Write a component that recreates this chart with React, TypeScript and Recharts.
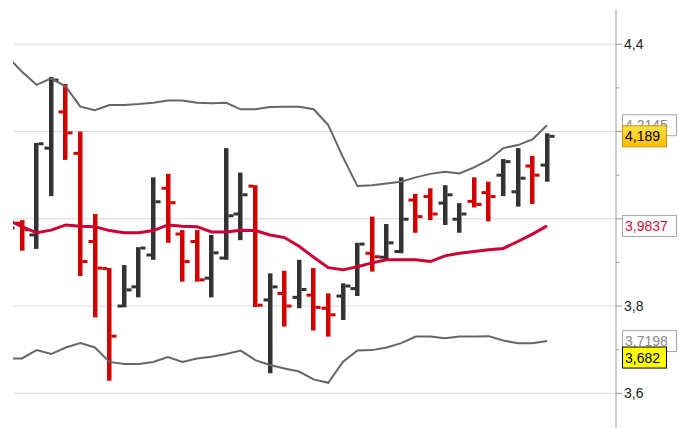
import { ComposedChart, Bar, Line, XAxis, YAxis, CartesianGrid } from 'recharts';

// OHLC bars, first one is partly cut off by the left edge
const opens = [3.972, 3.99, 3.963, 4.162, 4.245, 4.15, 3.948, 3.886, 3.8, 3.844, 3.917, 4.07, 3.965, 3.948, 3.864, 3.91, 4.011, 4.075, 3.814, 3.829, 3.82, 3.825, 3.795, 3.823, 3.84, 3.921, 3.912, 3.925, 4.043, 4.051, 4.036, 3.999, 4.04, 4.06, 4.1, 4.062, 4.121, 4.123];
const highs = [3.99, 3.997, 4.174, 4.325, 4.309, 4.2, 4.011, 3.887, 3.894, 3.935, 4.095, 4.103, 3.974, 3.974, 3.963, 4.162, 4.106, 4.077, 3.875, 3.881, 3.906, 3.887, 3.829, 3.852, 3.945, 4.005, 3.988, 4.095, 4.057, 4.07, 4.077, 4.036, 4.095, 4.085, 4.137, 4.162, 4.144, 4.196];
const lows = [3.965, 3.927, 3.931, 4.052, 4.135, 3.869, 3.774, 3.629, 3.797, 3.82, 3.906, 3.945, 3.856, 3.856, 3.82, 3.906, 3.951, 3.798, 3.646, 3.753, 3.795, 3.744, 3.73, 3.768, 3.823, 3.879, 3.906, 3.921, 3.968, 3.997, 3.986, 3.968, 4.026, 3.994, 4.052, 4.028, 4.034, 4.085];
const closes = [3.979, 3.975, 4.172, 4.318, 4.197, 3.902, 3.887, 3.731, 3.837, 3.933, 4.039, 4.037, 3.902, 3.86, 3.922, 4.007, 4.055, 3.802, 3.844, 3.8, 3.838, 3.797, 3.78, 3.846, 3.942, 3.913, 3.945, 3.999, 4.005, 4.011, 4.055, 4.011, 4.033, 4.051, 4.131, 4.093, 4.1, 4.189];

// Bollinger bands
const upperBand = [4.372, 4.337, 4.307, 4.322, 4.303, 4.257, 4.249, 4.261, 4.261, 4.263, 4.266, 4.271, 4.271, 4.266, 4.265, 4.266, 4.251, 4.251, 4.256, 4.257, 4.257, 4.251, 4.215, 4.142, 4.075, 4.077, 4.081, 4.085, 4.095, 4.103, 4.108, 4.104, 4.118, 4.135, 4.162, 4.169, 4.182, 4.2145];
const middleBand = [3.998, 3.982, 3.968, 3.974, 3.986, 3.983, 3.982, 3.973, 3.968, 3.968, 3.973, 3.986, 3.983, 3.982, 3.97, 3.97, 3.974, 3.973, 3.963, 3.957, 3.937, 3.912, 3.888, 3.883, 3.89, 3.899, 3.906, 3.906, 3.906, 3.902, 3.915, 3.921, 3.925, 3.929, 3.932, 3.948, 3.965, 3.9837];
const lowerBand = [3.68, 3.68, 3.699, 3.69, 3.705, 3.715, 3.705, 3.672, 3.667, 3.667, 3.672, 3.683, 3.672, 3.68, 3.684, 3.69, 3.698, 3.676, 3.665, 3.657, 3.65, 3.632, 3.624, 3.672, 3.698, 3.699, 3.705, 3.715, 3.73, 3.73, 3.726, 3.73, 3.73, 3.731, 3.721, 3.715, 3.715, 3.7198];

const lowMark = 3.682;

const majorTicks = [3.6, 3.8, 4.0, 4.2, 4.4];
const minorTicks = [3.7, 3.9, 4.1, 4.3];
const labeledTicks = [3.6, 3.8, 4.4];

const data = opens.map((o, i) => ({
  i,
  open: o,
  high: highs[i],
  low: lows[i],
  close: closes[i],
  upper: upperBand[i],
  middle: middleBand[i],
  lower: lowerBand[i],
}));

const last = opens.length - 1;
const markers = [
  { value: upperBand[last], text: upperBand[last].toFixed(4), kind: 'band' },
  { value: closes[last], text: closes[last].toFixed(3), kind: 'close' },
  { value: middleBand[last], text: middleBand[last].toFixed(4), kind: 'middle' },
  { value: lowerBand[last], text: lowerBand[last].toFixed(4), kind: 'band' },
  { value: lowMark, text: lowMark.toFixed(3), kind: 'low' },
];

const markerStyle: Record<string, { fill: string; stroke: string; color: string; w: number }> = {
  band: { fill: '#ffffff', stroke: '#a8a8a8', color: '#8a8a8a', w: 54 },
  close: { fill: 'url(#closeGrad)', stroke: '#c99a00', color: '#000000', w: 44 },
  middle: { fill: '#ffffff', stroke: '#a8a8a8', color: '#d0103a', w: 54 },
  low: { fill: '#ffff00', stroke: '#000000', color: '#000000', w: 44 },
};

const FONT = 'Arial, "Liberation Sans", sans-serif';

function OhlcBar(props: any) {
  const { x, y, width, height, payload } = props;
  if (!payload || height == null) return null;
  const { open, high, low, close } = payload;
  const span = high - low || 1;
  const k = height / span;
  const cx = Math.round(x + width / 2);
  const oy = y + (high - open) * k;
  const cy = y + (high - close) * k;
  const color = close >= open ? '#333333' : '#d00000';
  return (
    <g fill={color}>
      <rect x={cx - 2} y={y} width={4.5} height={Math.max(height, 2)} />
      <rect x={cx - 6.5} y={oy - 1.5} width={4.5} height={3} />
      <rect x={cx + 2.5} y={cy - 1.5} width={5} height={3} />
    </g>
  );
}

function AxisTick(props: any) {
  const { x, y, payload } = props;
  const v = payload.value;
  const ax = x - 8;
  const m = markers.find((mk) => mk.value === v);
  if (m) {
    const st = markerStyle[m.kind];
    return (
      <g>
        {m.kind === 'close' && (
          <defs>
            <linearGradient id="closeGrad" x1="0" y1="0" x2="0" y2="1">
              <stop offset="0%" stopColor="#ffe14a" />
              <stop offset="100%" stopColor="#ffbc00" />
            </linearGradient>
          </defs>
        )}
        <rect x={ax + 6.5} y={y - 10.5} width={st.w} height={21} fill={st.fill} stroke={st.stroke} strokeWidth={1} />
        <text x={ax + 9} y={y} dy="0.36em" fontSize={14} fontFamily={FONT} fill={st.color}>
          {m.text.replace('.', ',')}
        </text>
      </g>
    );
  }
  const major = majorTicks.includes(v);
  return (
    <g>
      <line x1={ax} x2={ax + (major ? 6 : 3)} y1={y} y2={y} stroke="#999999" />
      {labeledTicks.includes(v) && (
        <text x={ax + 8} y={y} dy="0.36em" fontSize={14} fontFamily={FONT} fill="#222222">
          {v.toFixed(1).replace('.', ',')}
        </text>
      )}
    </g>
  );
}

export default function App() {
  return (
    <div style={{ position: 'absolute', left: 0, top: 0, width: 679, height: 428, background: '#ffffff' }}>
      <ComposedChart width={679} height={428} data={data} margin={{ top: 10, right: 0, bottom: 0, left: 13 }}>
        <CartesianGrid vertical={false} horizontalValues={majorTicks} stroke="#dcdcdc" />
        <XAxis dataKey="i" type="number" domain={[0.383, 41.731]} allowDataOverflow hide />
        <YAxis
          orientation="right"
          type="number"
          domain={[3.5205, 4.4786]}
          allowDataOverflow
          width={63}
          ticks={[...minorTicks, ...majorTicks, ...markers.map((m) => m.value)]}
          interval={0}
          tickSize={6}
          tickMargin={2}
          tickLine={false}
          axisLine={{ stroke: '#999999' }}
          tick={<AxisTick />}
        />
        <Bar dataKey={(d: any) => [d.low, d.high]} barSize={4} shape={<OhlcBar />} isAnimationActive={false} />
        <Line dataKey="upper" stroke="#666666" strokeWidth={2} dot={false} activeDot={false} isAnimationActive={false} />
        <Line dataKey="lower" stroke="#666666" strokeWidth={2} dot={false} activeDot={false} isAnimationActive={false} />
        <Line dataKey="middle" stroke="#cc0033" strokeWidth={3} dot={false} activeDot={false} isAnimationActive={false} />
      </ComposedChart>
    </div>
  );
}
